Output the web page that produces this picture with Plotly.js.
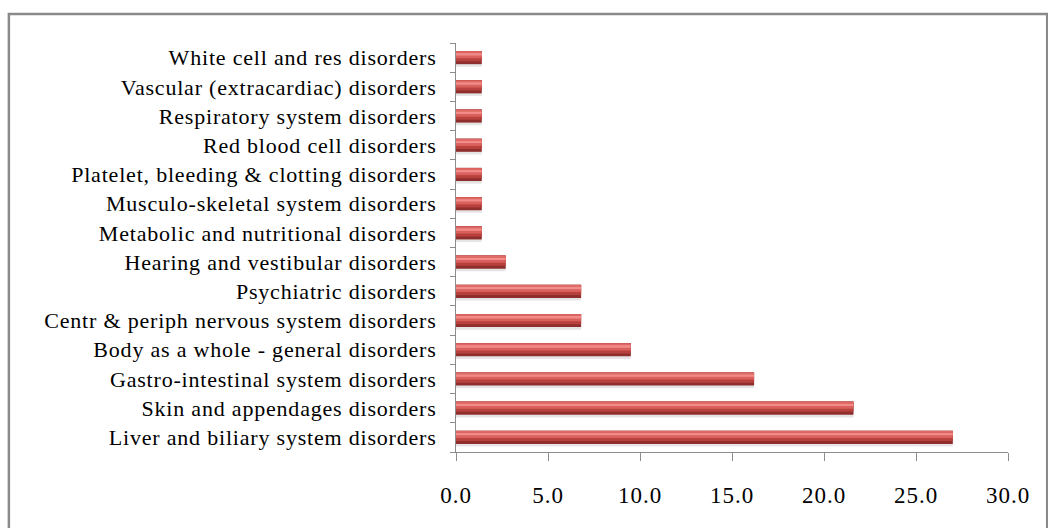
<!DOCTYPE html>
<html>
<head>
<meta charset="utf-8">
<script src="https://cdn.plot.ly/plotly-3.0.1.min.js"></script>
<style>
html,body{margin:0;padding:0;background:#fff;}
#chart{width:1048px;height:528px;}
#chart .ytick text{letter-spacing:0.8px;}
#chart .xtick text{letter-spacing:1px;}
</style>
</head>
<body>
<div id="chart"></div>
<script>
const categories = [
  "Liver and biliary system disorders",
  "Skin and appendages disorders",
  "Gastro-intestinal system disorders",
  "Body as a whole - general disorders",
  "Centr & periph nervous system disorders",
  "Psychiatric disorders",
  "Hearing and vestibular disorders",
  "Metabolic and nutritional disorders",
  "Musculo-skeletal system disorders",
  "Platelet, bleeding & clotting disorders",
  "Red blood cell disorders",
  "Respiratory system disorders",
  "Vascular (extracardiac) disorders",
  "White cell and res disorders"
];
const values = [27.0, 21.6, 16.2, 9.5, 6.8, 6.8, 2.7, 1.4, 1.4, 1.4, 1.4, 1.4, 1.4, 1.4];
const xTicks = [0, 5, 10, 15, 20, 25, 30];
const xTickLabels = ["0.0", "5.0", "10.0", "15.0", "20.0", "25.0", "30.0"];

const W = 0.45;
function layer(color, width, offset) {
  return {
    type: 'bar', orientation: 'h', x: values, y: categories,
    marker: {color: color, line: {width: 0}},
    width: width, offset: offset, hoverinfo: 'skip', showlegend: false
  };
}
const traces = [
  layer('rgba(0,0,0,0.10)', W, -W/2 - 0.09),
  layer('#8E2F2D', W, -W/2),
  layer('#B8413E', W*0.78, -W/2 + W*0.22),
  layer('#D9605C', W*0.5, -W/2 + W*0.45),
  layer('#F28C88', W*0.18, -W/2 + W*0.66),
  layer('#E06A66', W*0.1, -W/2 + W*0.88)
];

const layout = {
  width: 1048, height: 528,
  margin: {l: 456, r: 40, t: 43, b: 76},
  paper_bgcolor: '#ffffff', plot_bgcolor: '#ffffff',
  barmode: 'overlay',
  font: {family: 'Liberation Serif, Times New Roman, serif', color: '#000', size: 19},
  xaxis: {
    range: [0, 30], tickvals: xTicks, ticktext: xTickLabels,
    showgrid: false, zeroline: false, showline: true, linecolor: '#8c8c8c', linewidth: 1,
    ticks: 'outside', ticklen: 8, tickcolor: '#8c8c8c', ticklabelstandoff: 14,
    tickfont: {family: 'Liberation Serif, serif', size: 23, color: '#000'}
  },
  yaxis: {
    type: 'category', categoryorder: 'array', categoryarray: categories,
    range: [-0.5, categories.length - 0.5],
    showgrid: false, zeroline: false, showline: true, linecolor: '#8c8c8c', linewidth: 1,
    ticks: 'outside', ticklen: 5, tickcolor: '#8c8c8c', tickson: 'boundaries',
    ticklabelstandoff: 14,
    tickfont: {family: 'Liberation Serif, serif', size: 22, color: '#000'}
  },
  shapes: [{
    type: 'rect', xref: 'paper', yref: 'paper',
    x0: -0.81, x1: 1.071, y0: -0.3, y1: 1.071,
    line: {color: '#8a8a8a', width: 2.5}, fillcolor: 'rgba(0,0,0,0)', layer: 'below'
  }]
};

Plotly.newPlot('chart', traces, layout, {displayModeBar: false, staticPlot: true});
</script>
</body>
</html>
